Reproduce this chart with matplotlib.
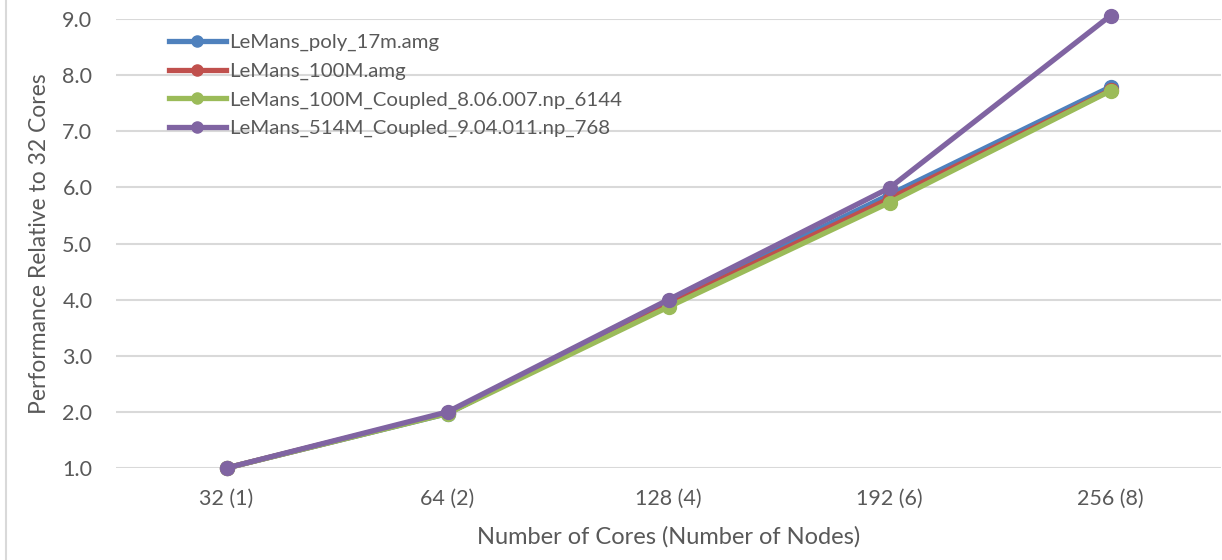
import matplotlib
matplotlib.use("Agg")
from matplotlib import pyplot as plt
from matplotlib.lines import Line2D

categories = ["32 (1)", "64 (2)", "128 (4)", "192 (6)", "256 (8)"]
series_names = [
    "LeMans_poly_17m.amg",
    "LeMans_100M.amg",
    "LeMans_100M_Coupled_8.06.007.np_6144",
    "LeMans_514M_Coupled_9.04.011.np_768",
]
poly_17m = [1.0, 1.97, 3.96, 5.87, 7.79]
m100 = [1.0, 1.98, 3.92, 5.80, 7.73]
m100_coupled = [1.0, 1.97, 3.87, 5.73, 7.72]
m514_coupled = [1.0, 2.00, 4.00, 5.99, 9.06]
yticks = [1.0, 2.0, 3.0, 4.0, 5.0, 6.0, 7.0, 8.0, 9.0]

colors = ["#4F81BD", "#C0504D", "#9BBB59", "#8064A2"]
text_col = "#595959"
plt.rcParams['font.family'] = ['Lato', 'DejaVu Sans']

fig = plt.figure(figsize=(12.22, 5.6), dpi=100)
ax = fig.add_axes([116 / 1222, (560 - 468) / 560, (1221 - 116) / 1222, (468 - 19) / 560])

x = range(len(categories))
for vals, c in zip([poly_17m, m100, m100_coupled, m514_coupled], colors):
    ax.plot(x, vals, color=c, lw=3.8, marker='o', ms=10, clip_on=False, zorder=3)

ax.set_xlim(-0.5, len(categories) - 0.5)
ax.set_ylim(1.0, 9.0)
ax.set_yticks(yticks)
ax.set_yticklabels([f"{v:.1f}" for v in yticks])
ax.set_xticks(list(x))
ax.set_xticklabels(categories)
ax.grid(axis='y', color='#D9D9D9', lw=1.5)
ax.set_axisbelow(True)
for s in ax.spines.values():
    s.set_visible(False)
ax.tick_params(length=0, labelsize=15.5, colors=text_col)
ax.tick_params(axis='y', pad=17)
ax.tick_params(axis='x', pad=15)
ax.set_xlabel("Number of Cores (Number of Nodes)", fontsize=17, color=text_col, va='center')
ax.set_ylabel("Performance Relative to 32 Cores", fontsize=16.5, color=text_col, va='center')
ax.xaxis.set_label_coords(0.5, (468 - 537) / 449)
ax.yaxis.set_label_coords((40 - 116) / 1105, 0.5)

handles = [Line2D([], [], color=c, lw=3.8, marker='o', ms=8) for c in colors]
leg = ax.legend(handles, series_names, loc='upper left', bbox_to_anchor=(0.031, 1.008),
                frameon=False, fontsize=14.7, handlelength=2.8, handletextpad=0.15,
                labelspacing=0.54, labelcolor=text_col)

fig.add_artist(Line2D([5.5 / 1222, 5.5 / 1222], [0, 1], color='#D9D9D9', lw=1.5))

fig.savefig("out.png", dpi=100)
